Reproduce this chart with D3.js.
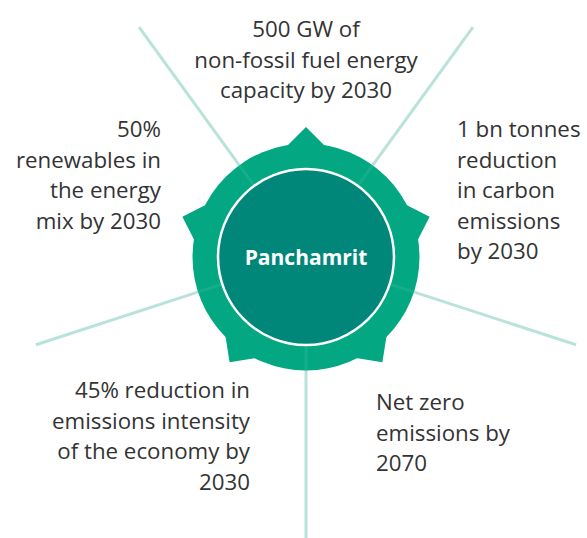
<!DOCTYPE html>
<html><head><meta charset="utf-8">
<script src="https://cdn.jsdelivr.net/npm/d3@7"></script>
<style>
html,body{margin:0;padding:0;background:#fff;}
svg{display:block;}
</style></head>
<body>
<svg id="chart" width="587" height="538"></svg>
<script>
// ---- data ----
const centerTitle = "Panchamrit";
const goalLines = [
  ["500 GW of", "non-fossil fuel energy", "capacity by 2030"],
  ["1 bn tonnes", "reduction", "in carbon", "emissions", "by 2030"],
  ["Net zero", "emissions by", "2070"],
  ["45% reduction in", "emissions intensity", "of the economy by", "2030"],
  ["50%", "renewables in", "the energy", "mix by 2030"]
];

// ---- layout (positions / styles) ----
const W = 587, H = 538, cx = 306, cy = 257;
const labelLayout = [
  {x: 306, y: 37, anchor: "middle"},
  {x: 457, y: 137, anchor: "start"},
  {x: 376, y: 410, anchor: "start"},
  {x: 250, y: 398, anchor: "end"},
  {x: 161, y: 137, anchor: "end"}
];
const lineGap = 30.5;
const ringColor = "#03A882", innerColor = "#00877A", spokeColor = "#B9E3DA";

const svg = d3.select("#chart");
const g = svg.append("g").attr("transform", `translate(${cx},${cy})`);

const n = goalLines.length;
const angle = d3.scaleLinear().domain([0, n]).range([0, 2 * Math.PI]);

// spokes between goals
const spokeIdx = d3.range(n);
g.selectAll("line.spoke").data(spokeIdx).join("line")
  .attr("class", "spoke")
  .each(function(i) {
    const a = angle(i) + angle(0.5);
    const p0 = d3.pointRadial(a, 88), p1 = d3.pointRadial(a, 284);
    d3.select(this).attr("x1", p0[0]).attr("y1", p0[1]).attr("x2", p1[0]).attr("y2", p1[1]);
  })
  .attr("stroke", spokeColor).attr("stroke-width", 3);

// star points + ring
const starPts = [];
d3.range(n).forEach(i => {
  starPts.push(d3.pointRadial(angle(i), 130));
  starPts.push(d3.pointRadial(angle(i + 0.5), 93));
});
g.append("path").attr("d", d3.line()(starPts) + "Z").attr("fill", ringColor);
g.append("circle").attr("r", 113.5).attr("fill", ringColor);

// faint spoke continuation through ring
g.selectAll("line.faint").data(spokeIdx).join("line")
  .attr("class", "faint")
  .each(function(i) {
    const a = angle(i) + angle(0.5);
    const p0 = d3.pointRadial(a, 88), p1 = d3.pointRadial(a, 113);
    d3.select(this).attr("x1", p0[0]).attr("y1", p0[1]).attr("x2", p1[0]).attr("y2", p1[1]);
  })
  .attr("stroke", "#ffffff").attr("stroke-opacity", 0.07).attr("stroke-width", 3);

// inner circle
g.append("circle").attr("r", 88).attr("fill", innerColor)
  .attr("stroke", "#ffffff").attr("stroke-width", 2.5);

g.append("text").text(centerTitle)
  .attr("text-anchor", "middle").attr("y", 8)
  .attr("font-family", "'Open Sans', sans-serif").attr("font-weight", 700)
  .attr("font-size", 21).attr("fill", "#ffffff");

// labels
svg.selectAll("text.goal").data(goalLines).join("text")
  .attr("class", "goal")
  .attr("font-family", "'Open Sans', sans-serif")
  .attr("font-size", 22.3)
  .attr("fill", "#333333")
  .attr("text-anchor", (d, i) => labelLayout[i].anchor)
  .each(function(lines, i) {
    const L = labelLayout[i];
    d3.select(this).selectAll("tspan").data(lines).join("tspan")
      .attr("x", L.x).attr("y", (t, j) => L.y + j * lineGap).text(t => t);
  });
</script>
</body></html>
